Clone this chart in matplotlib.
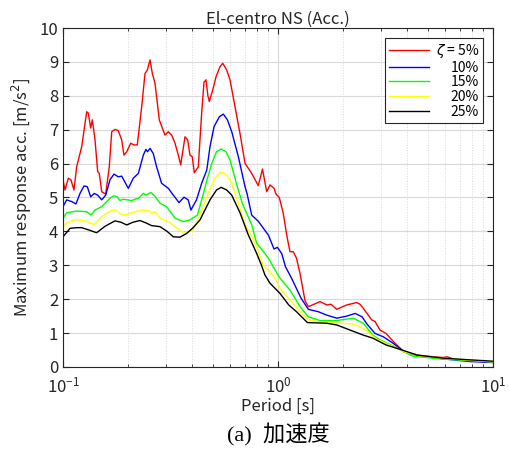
import numpy as np
import matplotlib
matplotlib.use('Agg')
import matplotlib.pyplot as plt
import matplotlib.ticker as mticker

plt.rcParams['font.family'] = ['Noto Sans CJK JP', 'DejaVu Sans']
plt.rcParams['mathtext.fontset'] = 'dejavusans'

# response spectra: period [s], max response acc. [m/s^2]
period_5 = [0.100, 0.1022, 0.1059, 0.1089, 0.1125, 0.1158, 0.1222, 0.1289, 0.1311, 0.1345,
            0.1369, 0.1409, 0.1450, 0.1475, 0.1514, 0.1580, 0.1642, 0.1685, 0.1745, 0.1808,
            0.1875, 0.1921, 0.1979, 0.2065, 0.2139, 0.2216, 0.2323, 0.2407, 0.2467, 0.2540,
            0.2603, 0.2679, 0.2805, 0.2981, 0.3089, 0.3203, 0.3319, 0.3439, 0.3528, 0.3694,
            0.3802, 0.3896, 0.3993, 0.4080, 0.4258, 0.4416, 0.4527, 0.4625, 0.472, 0.4791,
            0.4970, 0.5149, 0.5374, 0.5533, 0.5774, 0.5981, 0.6310, 0.6656, 0.7024, 0.7546,
            0.8095, 0.847, 0.886, 0.918, 0.9585, 0.9788, 1.014, 1.058, 1.098, 1.137,
            1.178, 1.219, 1.266, 1.336, 1.384, 1.47, 1.568, 1.685, 1.765, 1.875,
            2.087, 2.323, 2.407, 2.493, 2.729, 2.827, 2.981, 3.18, 3.44, 3.85,
            4.49, 5.26, 5.87, 6.13, 6.56, 7.82, 10.0]
acc_5 = [5.52, 5.22, 5.57, 5.52, 5.22, 5.91, 6.50, 7.53, 7.49, 7.05,
         7.29, 6.70, 5.76, 5.71, 5.17, 5.10, 5.91, 6.94, 7.01, 6.97,
         6.70, 6.25, 6.35, 6.60, 6.55, 6.55, 7.68, 8.66, 8.76, 9.06,
         8.66, 8.37, 7.29, 6.84, 6.94, 6.84, 6.60, 6.25, 5.96, 6.79,
         6.70, 6.25, 6.20, 5.73, 5.90, 7.50, 8.40, 8.47, 8.00, 7.83,
         8.17, 8.56, 8.86, 8.96, 8.76, 8.47, 7.68, 6.89, 6.01, 5.71,
         5.35, 5.84, 5.17, 5.37, 5.27, 5.10, 5.00, 4.53, 3.89, 3.40,
         3.40, 3.21, 2.76, 1.95, 1.78, 1.85, 1.93, 1.83, 1.85, 1.70,
         1.83, 1.90, 1.85, 1.73, 1.39, 1.34, 1.09, 0.99, 0.75, 0.45,
         0.35, 0.30, 0.28, 0.30, 0.23, 0.18, 0.15]

period_10 = [0.100, 0.1040, 0.1098, 0.1149, 0.1200, 0.1252, 0.1297, 0.1345, 0.1398, 0.1450,
             0.1514, 0.1580, 0.1654, 0.1726, 0.1808, 0.1875, 0.2013, 0.2124, 0.2241, 0.2364,
             0.2431, 0.2473, 0.2540, 0.2628, 0.2724, 0.2874, 0.3089, 0.3260, 0.3465, 0.3655,
             0.3823, 0.3934, 0.4178, 0.4416, 0.4664, 0.4828, 0.5041, 0.5334, 0.5571, 0.5817,
             0.6093, 0.6542, 0.7024, 0.7176, 0.7546, 0.8095, 0.9022, 0.9585, 0.9931, 1.040,
             1.083, 1.160, 1.28, 1.384, 1.54, 1.685, 1.875, 2.087, 2.285, 2.46,
             2.59, 2.827, 3.09, 3.43, 3.85, 4.576, 5.87, 7.82, 10.0]
acc_10 = [4.73, 4.93, 4.88, 4.81, 5.12, 5.34, 5.32, 5.02, 5.12, 5.07,
          4.93, 5.07, 5.52, 5.69, 5.61, 5.63, 5.27, 5.57, 5.71, 6.25,
          6.42, 6.35, 6.45, 6.30, 5.91, 5.42, 5.27, 5.07, 4.85, 5.01,
          4.93, 4.63, 4.93, 5.42, 5.81, 6.50, 7.09, 7.38, 7.46, 7.29,
          6.94, 6.20, 5.32, 5.12, 4.48, 4.30, 3.89, 3.48, 3.53, 3.35,
          2.96, 2.60, 2.03, 1.70, 1.63, 1.53, 1.44, 1.50, 1.58, 1.48,
          1.27, 0.99, 0.89, 0.70, 0.45, 0.32, 0.24, 0.16, 0.13]

period_15 = [0.100, 0.1040, 0.1158, 0.1289, 0.1349, 0.1409, 0.1514, 0.1654, 0.1726, 0.1786,
             0.1841, 0.1904, 0.2083, 0.2241, 0.2364, 0.2431, 0.2560, 0.2679, 0.2826, 0.3034,
             0.3319, 0.3624, 0.3896, 0.4220, 0.4502, 0.4664, 0.4923, 0.5175, 0.5439, 0.5728,
             0.5981, 0.640, 0.6847, 0.7546, 0.7958, 0.838, 0.9022, 1.01, 1.137, 1.266,
             1.384, 1.568, 1.875, 2.238, 2.493, 2.76, 2.981, 3.43, 3.85, 4.24,
             5.87, 10.0]
acc_15 = [4.39, 4.55, 4.60, 4.58, 4.48, 4.63, 4.73, 4.98, 5.05, 5.02,
          4.91, 4.95, 4.91, 4.98, 5.12, 5.07, 5.15, 5.04, 4.83, 4.73,
          4.39, 4.29, 4.34, 4.48, 5.12, 5.50, 6.01, 6.35, 6.43, 6.35,
          6.11, 5.42, 4.80, 4.20, 3.65, 3.48, 3.21, 2.66, 2.27, 1.78,
          1.48, 1.37, 1.37, 1.44, 1.29, 0.94, 0.80, 0.62, 0.45, 0.32,
          0.23, 0.15]

period_20 = [0.100, 0.1040, 0.1137, 0.1222, 0.1266, 0.1394, 0.1514, 0.1654, 0.1745, 0.1841,
             0.1921, 0.2083, 0.2323, 0.2493, 0.2585, 0.2679, 0.2826, 0.3146, 0.3376, 0.3655,
             0.4024, 0.4338, 0.4745, 0.5096, 0.5439, 0.5774, 0.6093, 0.6542, 0.7024, 0.7410,
             0.7958, 0.852, 0.9022, 0.9694, 1.0217, 1.137, 1.266, 1.384, 1.62, 1.943,
             2.238, 2.493, 2.88, 3.43, 3.85, 4.576, 5.87, 10.0]
acc_20 = [4.10, 4.26, 4.34, 4.33, 4.31, 4.20, 4.43, 4.60, 4.63, 4.53,
          4.48, 4.55, 4.63, 4.61, 4.55, 4.58, 4.39, 4.26, 4.11, 3.94,
          4.04, 4.48, 5.15, 5.57, 5.76, 5.66, 5.42, 4.83, 4.20, 3.95,
          3.55, 3.01, 2.86, 2.62, 2.32, 1.98, 1.63, 1.39, 1.31, 1.29,
          1.27, 1.14, 0.82, 0.60, 0.45, 0.33, 0.26, 0.15]

period_25 = [0.100, 0.1078, 0.1158, 0.1222, 0.1307, 0.1434, 0.1568, 0.1745, 0.186, 0.1979,
             0.2116, 0.2281, 0.2431, 0.2585, 0.2826, 0.305, 0.3260, 0.3502, 0.3760, 0.4015,
             0.4338, 0.4828, 0.5175, 0.5439, 0.5774, 0.6093, 0.6656, 0.7273, 0.7958, 0.838,
             0.870, 0.918, 1.0217, 1.122, 1.219, 1.37, 1.685, 1.875, 2.162, 2.493,
             2.76, 3.18, 3.694, 4.44, 5.87, 7.82, 10.0]
acc_25 = [3.84, 4.09, 4.11, 4.11, 4.05, 3.96, 4.15, 4.31, 4.27, 4.19,
          4.27, 4.32, 4.25, 4.17, 4.14, 4.00, 3.84, 3.83, 3.94, 4.10,
          4.34, 4.93, 5.22, 5.30, 5.22, 5.07, 4.55, 3.90, 3.35, 3.00,
          2.71, 2.47, 2.17, 1.83, 1.63, 1.31, 1.29, 1.24, 1.09, 0.94,
          0.85, 0.65, 0.52, 0.35, 0.26, 0.21, 0.17]

series = [(period_5, acc_5, 'red', r'$\zeta$ = 5%'),
          (period_10, acc_10, 'blue', '10%'),
          (period_15, acc_15, 'lime', '15%'),
          (period_20, acc_20, 'yellow', '20%'),
          (period_25, acc_25, 'black', '25%')]

fig = plt.figure(figsize=(5.10, 4.51), dpi=100)
ax = fig.add_axes([0.1235, 0.1863, 0.8432, 0.7516])

for T, a, c, lab in series:
    ax.plot(T, a, color=c, lw=1.0, label=lab)

ax.set_xscale('log')
ax.set_xlim(0.1, 10)
ax.set_ylim(0, 10)
ax.set_yticks(np.arange(0, 11, 1))
ax.xaxis.set_minor_locator(mticker.LogLocator(base=10, subs=np.arange(2, 10)))
ax.xaxis.set_minor_formatter(mticker.NullFormatter())

ax.grid(which='major', color='#d9d9d9', lw=0.8, ls='-')
ax.grid(which='minor', axis='x', color='#d9d9d9', lw=0.7, ls=':')
ax.set_axisbelow(True)

for s in ax.spines.values():
    s.set_color('#262626')
    s.set_linewidth(0.8)
ax.tick_params(which='both', direction='in', top=True, right=True, colors='#262626',
               labelsize=12)
ax.tick_params(which='major', length=4)
ax.tick_params(which='minor', length=2)
ax.tick_params(axis='x', pad=7)

ax.set_title('El-centro NS (Acc.)', fontsize=12, color='#262626', pad=3)
ax.set_xlabel('Period [s]', fontsize=12, color='#262626', labelpad=1)
ax.set_ylabel('Maximum response acc. [m/s$^2$]', fontsize=12, color='#262626',
              labelpad=4)

leg = ax.legend(loc='upper right', fontsize=10, fancybox=False, framealpha=1.0,
                edgecolor='#262626', handlelength=2.9, labelspacing=0.05,
                borderaxespad=0.7, handletextpad=0.45, borderpad=0.3)
leg.get_frame().set_linewidth(0.8)

ax.text(0.5, -0.2, '(a)  加速度', ha='center', va='center', fontsize=16,
        transform=ax.transAxes, family=['Liberation Serif', 'Noto Sans CJK JP'])

# right-align legend labels like the original
fig.canvas.draw()
r = fig.canvas.get_renderer()
texts = leg.get_texts()
ws = [t.get_window_extent(r).width for t in texts]
for t, w in zip(texts, ws):
    t.set_x(max(ws) - w)

plt.savefig('out.png', dpi=100)
